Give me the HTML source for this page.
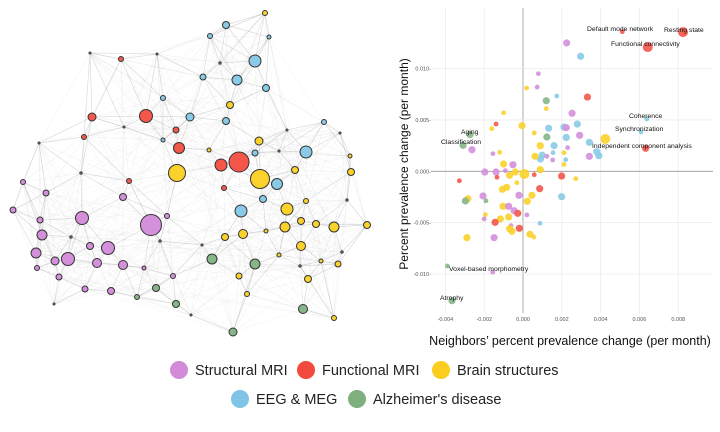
<!DOCTYPE html>
<html><head><meta charset="utf-8"><style>
body{margin:0;background:#fff;width:720px;height:432px;overflow:hidden;font-family:"Liberation Sans",Arial,sans-serif}
svg{position:absolute;left:0;top:0}
</style></head><body>
<svg id="s" width="720" height="432">
<g id="net"></g>
<g id="sc"></g>
<g id="lg"></g>
</svg>
<script>
const NS="http://www.w3.org/2000/svg";
function mk(tag,attrs,parent){const e=document.createElementNS(NS,tag);for(const k in attrs)e.setAttribute(k,attrs[k]);parent.appendChild(e);return e;}
const COL={p:"#d590dc",r:"#f4574a",y:"#fbd22c",b:"#89cbe6",g:"#86b688",k:"#555"};
// ---- network nodes: x, y, radius, category
const nodeX=[265,226,210,269,90,157,121,255,220,203,237,266,163,230,92,146,190,226,324,124,176,287,84,340,163,259,39,179,209,279,306,255,350,239,221,295,351,81,177,260,277,129,23,224,46,123,263,306,347,287,13,241,167,82,40,151,301,316,285,334,367,266,42,243,225,71,160,90,202,108,301,36,342,55,68,212,279,97,123,255,321,338,37,144,300,59,173,239,308,156,85,111,247,137,54,176,303,191,334,233];
const nodeY=[13,25,36,37,53,54,59,61,63,77,80,88,98,105,117,116,117,121,122,127,130,130,137,133,140,141,143,148,150,151,152,153,156,162,165,170,172,173,173,179,184,181,182,188,193,197,199,201,200,209,210,211,216,218,220,225,221,224,227,227,225,231,235,234,237,237,241,246,245,248,246,253,252,261,259,259,255,263,265,264,261,264,268,268,266,277,276,276,279,288,289,291,294,297,304,304,309,315,318,332];
const nodeR=[2.5,3.5,2.5,2,1.3,1.3,2.5,6,1.5,3,5,3.5,2.5,3.5,4,6.5,4,3.5,2.5,1.3,3,1.3,2.5,1.3,2,4,1.3,5.5,2,1.3,6,3,2,10,6,3.5,3.5,1.5,8.5,9.5,5.5,2.5,2.5,2.5,3,3.5,3.5,2.5,1.5,6,3,6,2.5,6.5,3,10.5,3.5,3.5,5,5,3.5,2,5,4.5,3.5,1.5,1.5,3.5,1.3,6.5,4.5,5,1.5,4,6.5,5,2,4.5,4.5,5,2,3,2.5,2,1.5,3,2.5,3,3.5,3.5,3,3.5,2.5,2.5,1.3,3.5,4.5,1.3,2.5,4];
const nodeC=["y","b","b","b","k","k","r","b","k","b","b","b","b","y","r","r","b","b","b","k","r","k","r","k","b","y","k","r","y","k","b","b","y","r","r","y","y","k","y","y","b","r","p","r","p","p","b","y","k","y","p","b","p","p","p","p","y","y","y","y","y","y","p","y","y","k","k","p","k","p","y","p","k","p","p","g","y","p","p","g","y","y","p","p","k","p","p","y","y","g","p","p","y","g","k","g","g","k","y","g"];
// ---- scatter data (x: neighbors' change, y: own change)
const ptX=[0.00512,0.00825,0.00643,0.00225,0.00297,0.00079,0.00019,0.00073,0.00174,0.00332,0.0012,0.0012,-0.001,0.00253,0.00638,-0.00139,-0.00005,-0.00161,0.00132,0.00211,0.00223,0.0028,-0.00273,0.00123,0.00058,0.00223,0.00292,0.00424,0.00608,0.00342,-0.00309,-0.00263,0.0023,0.0016,0.00089,0.00632,0.0038,0.00391,0.00342,-0.0012,-0.00155,0.00099,0.0009,0.00062,0.00123,0.00155,0.00153,0.00211,0.0022,-0.001,-0.00052,0.00211,0.00089,-0.00197,-0.00139,-0.00091,-0.00069,-0.0004,0.00007,0.00058,0.00199,0.00272,-0.00328,-0.00134,-0.00032,-0.00084,-0.00106,0.00086,0.00046,-0.00021,-0.00206,0.00199,-0.00284,-0.00297,-0.00191,0.00022,-0.00103,-0.00074,-0.00046,-0.00027,0.0002,-0.00194,-0.002,-0.00074,-0.00117,-0.00144,0.00088,-0.00062,-0.00069,-0.00019,-0.00057,0.00036,0.00056,-0.00289,-0.00149,-0.0039,-0.00156,-0.00366];
const ptY=[0.0136,0.01355,0.0121,0.0125,0.0112,0.0095,0.0081,0.0082,0.00733,0.00723,0.00687,0.0061,0.0057,0.00565,0.0051,0.0046,0.00445,0.00415,0.0042,0.0043,0.00425,0.0046,0.00357,0.00334,0.00373,0.0033,0.0035,0.00315,0.00383,0.00282,0.00253,0.0021,0.0023,0.0025,0.00249,0.00224,0.00191,0.00152,0.00146,0.00185,0.00171,0.00156,0.0012,0.00146,0.00146,0.00181,0.0011,0.00181,0.00113,0.00071,0.00064,0.00067,0.00016,-0.00007,-0.00007,0.00006,-0.00039,-0.00007,-0.00026,-0.00033,-0.00046,-0.00072,-0.00092,-0.00058,-0.00111,-0.00156,-0.00175,-0.00169,-0.00234,-0.00234,-0.0024,-0.00247,-0.00267,-0.00289,-0.00287,-0.00292,-0.00341,-0.00341,-0.00384,-0.00409,-0.00425,-0.00422,-0.00464,-0.00445,-0.00464,-0.00497,-0.00506,-0.00529,-0.00559,-0.00555,-0.00584,-0.00613,-0.0064,-0.00646,-0.00646,-0.00922,-0.00983,-0.0126];
const ptC=["r","r","r","p","b","p","y","p","b","r","g","y","y","p","b","r","y","y","b","b","p","b","g","g","y","b","p","y","b","b","g","p","p","b","y","r","b","b","p","y","p","b","b","y","p","b","p","y","b","y","p","y","y","p","p","p","y","y","y","r","r","y","r","r","y","y","y","r","y","p","p","b","y","g","g","y","y","p","p","r","p","y","p","y","y","r","b","p","y","r","y","y","y","y","p","g","p","g"];
const ptS=["S","L","L","M","M","S","S","S","S","M","M","S","S","M","S","S","M","S","M","M","M","M","M","M","S","M","M","L","S","M","M","M","S","M","M","M","M","M","M","S","S","M","M","M","S","S","S","S","S","M","M","S","M","M","M","S","M","M","L","S","M","S","S","S","S","M","M","M","M","M","M","M","M","M","S","M","M","M","M","M","S","S","S","M","M","M","S","S","M","M","M","M","S","M","M","S","S","M"];
const xTicks=[-0.004,-0.002,0,0.002,0.004,0.006,0.008];
const xTickLabels=["-0.004","-0.002","0.000","0.002","0.004","0.006","0.008"];
const yTicks=[0.01,0.005,0,-0.005,-0.01];
const yTickLabels=["0.010-","0.005-","0.000-","-0.005-","-0.010-"];
const lblText=["Default mode network","Resting state","Functional connectivity","Coherence","Synchronization","Independent component analysis","Aging","Classification","Voxel-based morphometry","Atrophy"];

const xS=v=>523+v*19400, yS=v=>171.3-v*10270;
// ---- network
const net=document.getElementById('net');
const n=nodeX.length;
const eg=mk('g',{},net);


const seen={};
function edge(i,j,w,o){const k=Math.min(i,j)+"_"+Math.max(i,j);if(seen[k]||i===j)return;seen[k]=1;
 mk('line',{x1:nodeX[i],y1:nodeY[i],x2:nodeX[j],y2:nodeY[j],stroke:"#888","stroke-width":w,"stroke-opacity":o},eg);}
for(let i=0;i<n;i++){
 const d=[];for(let j=0;j<n;j++)if(j!==i)d.push([Math.hypot(nodeX[i]-nodeX[j],nodeY[i]-nodeY[j]),j]);
 d.sort((a,b)=>a[0]-b[0]);
 for(let k=0;k<5;k++)edge(i,d[k][1],0.7,0.3);
 for(let k=5;k<12;k++)edge(i,d[k][1],0.5,0.13);
 edge(i,(i*7+3)%n,0.5,0.1);edge(i,(i*13+29)%n,0.5,0.08);
}
for(let i=0;i<n;i++){
 const c=mk('circle',{cx:nodeX[i],cy:nodeY[i],r:nodeR[i],fill:COL[nodeC[i]]||"#555",stroke:"#333","stroke-width":nodeR[i]<2?0.5:1},net);
 
 
}
// ---- scatter
const sc=document.getElementById('sc');
xTicks.forEach((t,i)=>{
 mk('line',{x1:xS(t),y1:8,x2:xS(t),y2:313,stroke:t===0?"#999":"#ececec","stroke-width":0.8},sc);
 const tx=mk('text',{x:xS(t),y:321,"font-size":5.5,"text-anchor":"middle",fill:"#555"},sc);tx.textContent=xTickLabels[i];
 
 
});
yTicks.forEach((t,i)=>{
 mk('line',{x1:431,y1:yS(t),x2:713,y2:yS(t),stroke:t===0?"#999":"#ececec","stroke-width":0.8},sc);
 const tx=mk('text',{x:431,y:yS(t)+2,"font-size":5.5,"text-anchor":"end",fill:"#555"},sc);tx.textContent=yTickLabels[i];
 
 
});
const SZ={S:2.4,M:3.6,L:5};
for(let i=0;i<ptX.length;i++){
 const c=mk('circle',{cx:xS(ptX[i]),cy:yS(ptY[i]),r:SZ[ptS[i]]||3.5,fill:COL[ptC[i]]||"#d590dc","fill-opacity":0.9},sc);
 
 
}
const lblPos=[[587,31],[664,32],[611,46],[629,118],[615,131],[592,148],[461,134],[441,144],[449,271],[440,300]];
lblText.forEach((t,i)=>{
 const tx=mk('text',{x:lblPos[i][0],y:lblPos[i][1],"font-size":6.8,fill:"#111"},sc);tx.textContent=t;
 
 
});
const yt=mk('text',{x:0,y:0,"font-size":12,fill:"#111","text-anchor":"middle",transform:"translate(408,164) rotate(-90)"},sc);
yt.textContent="Percent prevalence change (per month)";


const xt=mk('text',{x:570,y:345,"font-size":12.5,fill:"#111","text-anchor":"middle"},sc);
xt.textContent="Neighbors’ percent prevalence change (per month)";


// ---- legend
const lg=document.getElementById('lg');
const legNames=["Structural MRI","Functional MRI","Brain structures","EEG & MEG","Alzheimer's disease"];
const legC=["p","r","y","b","g"];
const legPos=[[179,370],[306,370],[441,370],[240,399],[357,399]];
const legFill={p:"#d18bd8",r:"#f24a3c",y:"#fbcd1e",b:"#7fc4e6",g:"#7fae7f"};
legNames.forEach((t,i)=>{
 const g=mk('g',{},lg);
 
 
 mk('circle',{cx:legPos[i][0],cy:legPos[i][1],r:9,fill:legFill[legC[i]]},g);
 const tx=mk('text',{x:legPos[i][0]+16,y:legPos[i][1]+5,"font-size":14.5,fill:"#222"},g);tx.textContent=t;
});
</script>
</body></html>
